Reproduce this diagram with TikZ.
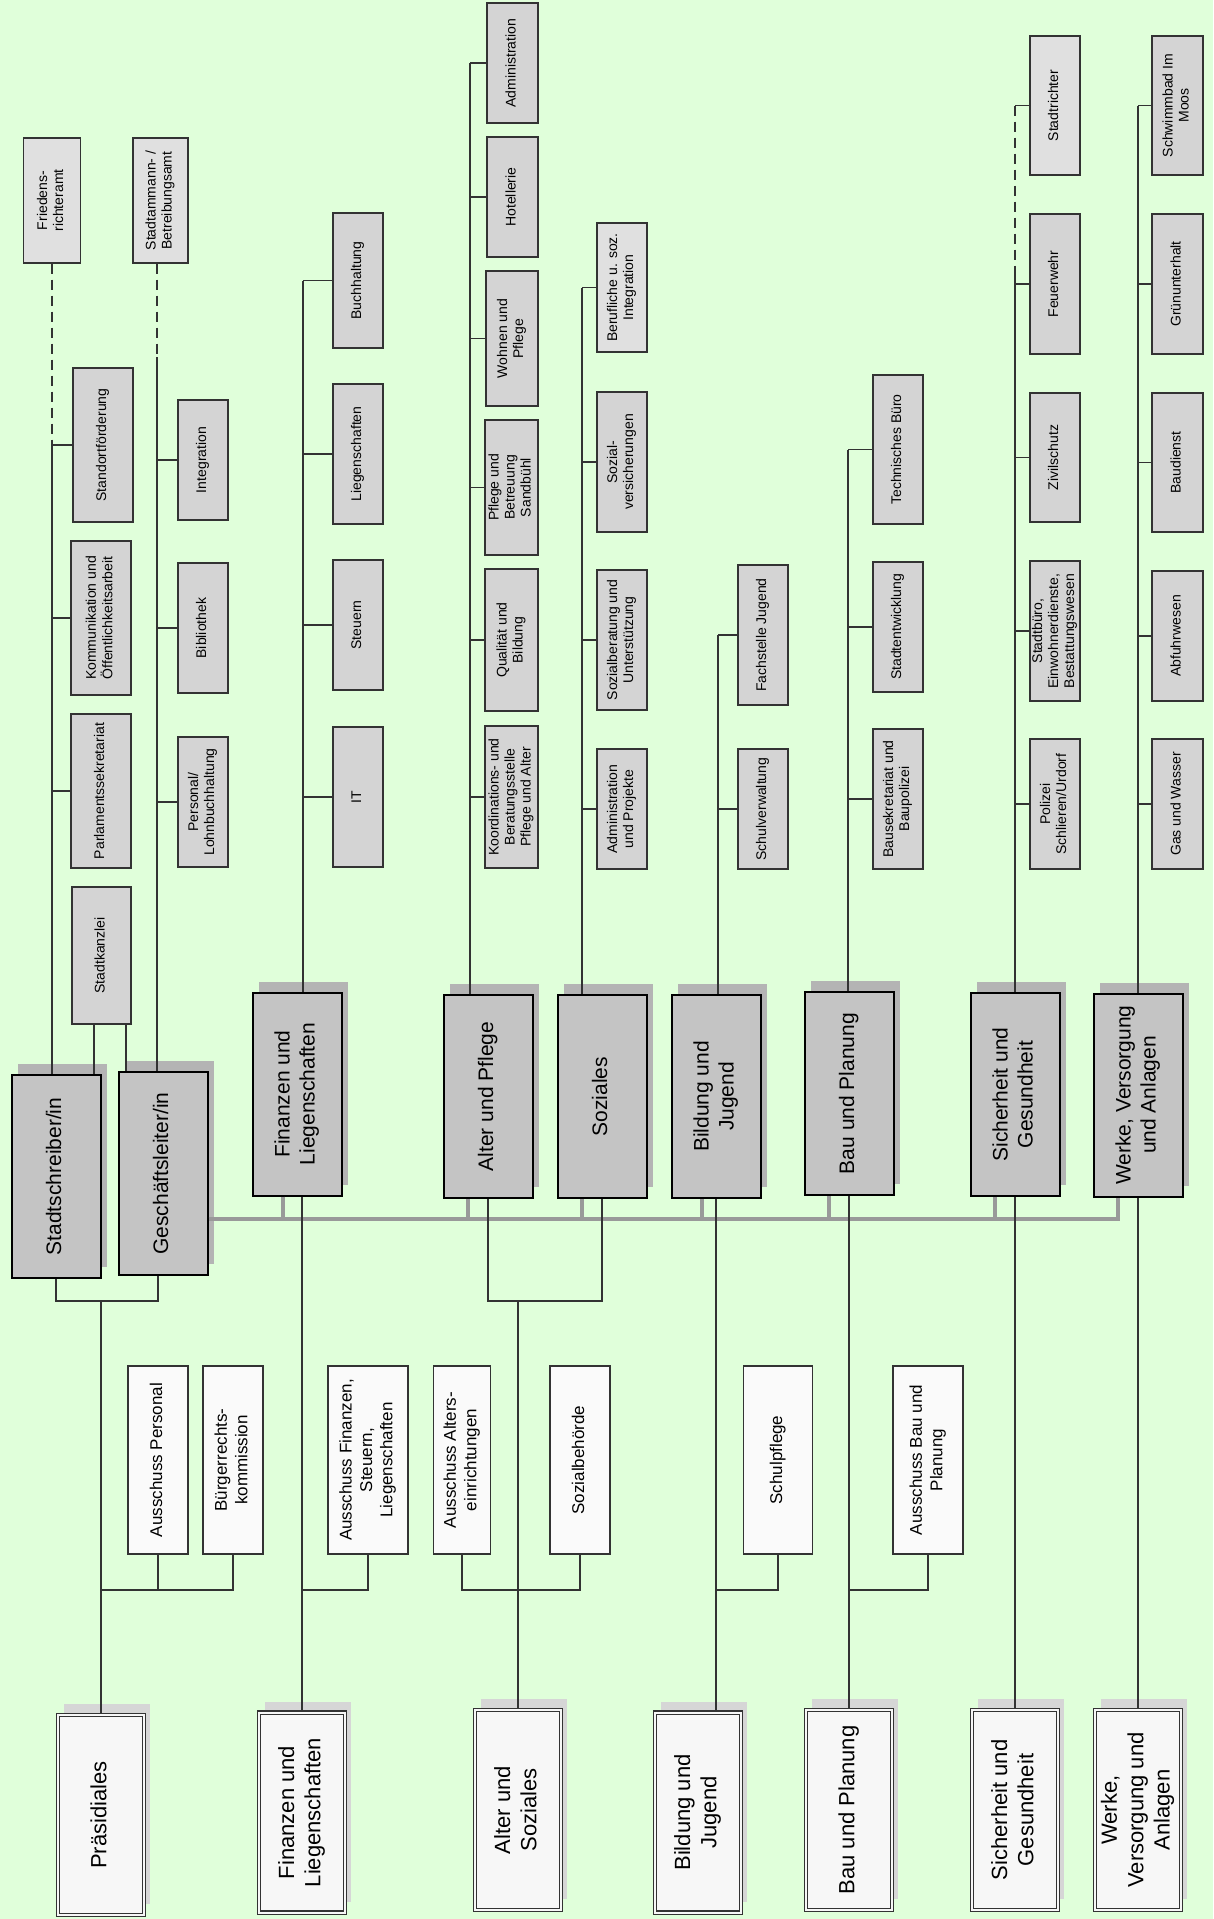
\documentclass[tikz,border=0pt]{standalone}
\usepackage{fontspec}
\setmainfont{Liberation Sans}
\usepackage{graphicx}
\usetikzlibrary{shadows}

\definecolor{bggreen}{RGB}{224,255,218}
\definecolor{unitgray}{RGB}{212,212,212}
\definecolor{palegray}{RGB}{224,224,224}
\definecolor{deptgray}{RGB}{196,196,196}
\definecolor{deptshade}{RGB}{180,180,180}
\definecolor{boardfill}{RGB}{247,247,247}
\definecolor{boardshade}{RGB}{214,214,214}
\definecolor{commfill}{RGB}{250,250,250}
\definecolor{linegray}{RGB}{51,51,51}
\definecolor{busgray}{RGB}{153,153,153}

\newcommand{\vt}[1]{\rotatebox{90}{\begin{tabular}{@{}c@{}}#1\end{tabular}}}

\begin{document}
\begin{tikzpicture}[
    x=1pt, y=-1pt,
    every node/.style={inner sep=1pt},
    unit/.style={rectangle, draw=linegray, line width=1.3pt, fill=unitgray, minimum width=50, font=\fontsize{14}{16}\selectfont},
    paleunit/.style={unit, fill=palegray},
    dept/.style={rectangle, draw=black, line width=2pt, fill=deptgray, minimum width=89, minimum height=203, font=\fontsize{21}{25}\selectfont, drop shadow={shadow xshift=6pt, shadow yshift=11pt, fill=deptshade, opacity=1}},
    comm/.style={rectangle, draw=linegray, line width=1.3pt, fill=commfill, minimum height=188, font=\fontsize{17}{20.4}\selectfont},
    board/.style={rectangle, draw=linegray, line width=1.1pt, double=boardfill, double distance=2pt, fill=boardfill, minimum width=86, minimum height=200, font=\fontsize{22}{26.4}\selectfont, drop shadow={shadow xshift=6pt, shadow yshift=11pt, fill=boardshade, opacity=1}},
    link/.style={draw=linegray, line width=1.3pt},
    dashlink/.style={link, dash pattern=on 10pt off 6pt},
    bus/.style={draw=busgray, line width=4pt}
]
\fill[bggreen] (0,0) rectangle (1213,1919);
\useasboundingbox (0,0) rectangle (1213,1919);

\node[paleunit, minimum width=57, minimum height=125] (friedens) at (52,200.5) {\vt{Friedens-\\richteramt}};
\node[paleunit, minimum width=55, minimum height=125] (stadtamm) at (160.5,200.5) {\vt{Stadtammann- /\\Betreibungsamt}};
\node[unit, minimum width=60, minimum height=154] (standort) at (103,445) {\vt{Standortförderung}};
\node[unit, minimum width=60, minimum height=154] (komm) at (101,618) {\vt{Kommunikation und\\Öffentlichkeitsarbeit}};
\node[unit, minimum width=60, minimum height=154] (parl) at (101,791) {\vt{Parlamentssekretariat}};
\node[unit, minimum width=59, minimum height=137] (kanzlei) at (101.5,955.5) {\vt{Stadtkanzlei}};
\node[unit, minimum height=120] (integ) at (203,460) {\vt{Integration}};
\node[unit, minimum height=130] (biblio) at (203,628) {\vt{Bibliothek}};
\node[unit, minimum height=130] (personal) at (203,802) {\vt{Personal/\\Lohnbuchhaltung}};

\node[unit, minimum height=135] (buchh) at (358,280.5) {\vt{Buchhaltung}};
\node[unit, minimum height=140] (liegen) at (358,454) {\vt{Liegenschaften}};
\node[unit, minimum height=130] (steuern) at (358,625) {\vt{Steuern}};
\node[unit, minimum height=140] (it) at (358,797) {\vt{IT}};

\node[unit, minimum width=51, minimum height=120] (admin) at (512.5,63) {\vt{Administration}};
\node[unit, minimum width=51, minimum height=120] (hotel) at (512.5,197) {\vt{Hotellerie}};
\node[unit, minimum width=52, minimum height=135] (wohnen) at (512,338.5) {\vt{Wohnen und\\Pflege}};
\node[unit, minimum width=53, minimum height=135] (sandb) at (511.5,487.5) {\vt{Pflege und\\Betreuung\\Sandbühl}};
\node[unit, minimum width=53, minimum height=142] (quali) at (511.5,640) {\vt{Qualität und\\Bildung}};
\node[unit, minimum width=53, minimum height=142] (koord) at (511.5,797) {\vt{Koordinations- und\\Beratungsstelle\\Pflege und Alter}};

\node[paleunit, minimum height=129] (beruf) at (622,287.5) {\vt{Berufliche u. soz.\\Integration}};
\node[unit, minimum height=140] (sozvers) at (622,462) {\vt{Sozial-\\versicherungen}};
\node[unit, minimum height=140] (sozber) at (622,640) {\vt{Sozialberatung und\\Unterstützung}};
\node[unit, minimum height=120] (adminpro) at (622,809) {\vt{Administration\\und Projekte}};

\node[unit, minimum height=140] (fachst) at (763,635) {\vt{Fachstelle Jugend}};
\node[unit, minimum height=120] (schulverw) at (763,809) {\vt{Schulverwaltung}};

\node[unit, minimum height=149] (techb) at (898,449.5) {\vt{Technisches Büro}};
\node[unit, minimum height=130] (stadtentw) at (898,627) {\vt{Stadtentwicklung}};
\node[unit, minimum height=140] (bausekr) at (898,799) {\vt{Bausekretariat und\\Baupolizei}};

\node[paleunit, minimum height=139] (richter) at (1055,105.5) {\vt{Stadtrichter}};
\node[unit, minimum height=140] (feuer) at (1055,284) {\vt{Feuerwehr}};
\node[unit, minimum height=129] (zivil) at (1055,457.5) {\vt{Zivilschutz}};
\node[unit, minimum height=140] (stadtbuero) at (1055,631) {\vt{Stadtbüro,\\Einwohnerdienste,\\Bestattungswesen}};
\node[unit, minimum height=130] (polizei) at (1055,804) {\vt{Polizei\\Schlieren/Urdorf}};

\node[unit, minimum width=51, minimum height=139] (schwimm) at (1177.5,105.5) {\vt{Schwimmbad Im\\Moos}};
\node[unit, minimum width=51, minimum height=140] (gruen) at (1177.5,284) {\vt{Grünunterhalt}};
\node[unit, minimum width=51, minimum height=139] (baud) at (1177.5,462.5) {\vt{Baudienst}};
\node[unit, minimum width=51, minimum height=130] (abfuhr) at (1177.5,636) {\vt{Abfuhrwesen}};
\node[unit, minimum width=51, minimum height=130] (gas) at (1177.5,804) {\vt{Gas und Wasser}};

\node[dept] (stadtschr) at (56,1176.5) {\vt{Stadtschreiber/in}};
\node[dept] (gesch) at (163,1173.5) {\vt{Geschäftsleiter/in}};
\node[dept] (finanz) at (297,1094) {\vt{Finanzen und\\Liegenschaften}};
\node[dept] (alter) at (488,1096.5) {\vt{Alter und Pflege}};
\node[dept] (sozial) at (602,1096.5) {\vt{Soziales}};
\node[dept] (bildung) at (716,1096.5) {\vt{Bildung und\\Jugend}};
\node[dept] (bau) at (849,1093.5) {\vt{Bau und Planung}};
\node[dept] (sicher) at (1015,1094.5) {\vt{Sicherheit und\\Gesundheit}};
\node[dept] (werke) at (1138,1095) {\vt{Werke, Versorgung\\und Anlagen}};

\node[comm, minimum width=60] (auspers) at (158,1460) {\vt{Ausschuss Personal}};
\node[comm, minimum width=60] (buerger) at (233,1460) {\vt{Bürgerrechts-\\kommission}};
\node[comm, minimum width=80] (ausfin) at (368,1460) {\vt{Ausschuss Finanzen,\\Steuern,\\Liegenschaften}};
\node[comm, minimum width=57] (ausalt) at (462,1460) {\vt{Ausschuss Alters-\\einrichtungen}};
\node[comm, minimum width=60] (sozbeh) at (580,1460) {\vt{Sozialbehörde}};
\node[comm, minimum width=69] (schulpfl) at (778,1460) {\vt{Schulpflege}};
\node[comm, minimum width=70] (ausbau) at (928,1460) {\vt{Ausschuss Bau und\\Planung}};

\node[board] (praes) at (101,1815) {\vt{Präsidiales}};
\node[board] (finb) at (302,1812.5) {\vt{Finanzen und\\Liegenschaften}};
\node[board] (alsoz) at (518,1810) {\vt{Alter und\\Soziales}};
\node[board] (bildb) at (698,1812.5) {\vt{Bildung und\\Jugend}};
\node[board] (baub) at (849,1810) {\vt{Bau und Planung}};
\node[board] (sicherb) at (1015,1810) {\vt{Sicherheit und\\Gesundheit}};
\node[board] (werkeb) at (1138,1810) {\vt{Werke,\\Versorgung und\\Anlagen}};

\coordinate (tges) at (157,357);
\coordinate (tfin) at (303,0);
\coordinate (talt) at (470,0);
\coordinate (tsoz) at (582,0);
\coordinate (tbil) at (718,0);
\coordinate (tbau) at (848,0);
\coordinate (tsic) at (1015,272);
\coordinate (twer) at (1138,0);

\draw[dashlink] (friedens.south) -- (friedens.south |- standort.west);
\draw[link] (friedens.south |- standort.west) -- (friedens.south |- stadtschr.north);
\foreach \n in {standort,komm,parl} \draw[link] (friedens.south |- \n.west) -- (\n.west);
\draw[link] ([xshift=-7.5]kanzlei.south) -- ([xshift=-7.5]kanzlei.south |- stadtschr.north);
\draw[link] ([xshift=24.5]kanzlei.south) -- ([xshift=24.5]kanzlei.south |- gesch.north);

\draw[dashlink] (tges |- stadtamm.south) -- (tges);
\draw[link] (tges) -- (tges |- gesch.north);
\foreach \n in {integ,biblio,personal} \draw[link] (tges |- \n.west) -- (\n.west);

\draw[link] (tfin |- buchh.west) -- (tfin |- finanz.north);
\foreach \n in {buchh,liegen,steuern,it} \draw[link] (tfin |- \n.west) -- (\n.west);

\draw[link] (talt |- admin.west) -- (talt |- alter.north);
\foreach \n in {admin,hotel,wohnen,sandb,quali,koord} \draw[link] (talt |- \n.west) -- (\n.west);

\draw[link] (tsoz |- beruf.west) -- (tsoz |- sozial.north);
\foreach \n in {beruf,sozvers,sozber,adminpro} \draw[link] (tsoz |- \n.west) -- (\n.west);

\draw[link] (tbil |- fachst.west) -- (tbil |- bildung.north);
\foreach \n in {fachst,schulverw} \draw[link] (tbil |- \n.west) -- (\n.west);

\draw[link] (tbau |- techb.west) -- (tbau |- bau.north);
\foreach \n in {techb,stadtentw,bausekr} \draw[link] (tbau |- \n.west) -- (\n.west);

\draw[dashlink] (tsic |- richter.west) -- (tsic);
\draw[link] (tsic) -- (sicher.north);
\foreach \n in {richter,feuer,zivil,stadtbuero,polizei} \draw[link] (tsic |- \n.west) -- (\n.west);

\draw[link] (twer |- schwimm.west) -- (twer |- werke.north);
\foreach \n in {schwimm,gruen,baud,abfuhr,gas} \draw[link] (twer |- \n.west) -- (\n.west);

\coordinate (busy) at (0,1219);
\draw[bus] (gesch.east |- busy) -- ([xshift=-20]werke.south |- busy) -- ([xshift=-20]werke.south);
\foreach \n/\d in {finanz/-14,alter/-20,sozial/-20,bildung/-14,bau/-20,sicher/-20}
  \draw[bus] ([xshift=\d]\n.south) -- ([xshift=\d]\n.south |- busy);

\coordinate (jpr) at (0,1301);
\coordinate (cy) at (0,1590);
\draw[link] (stadtschr.south) -- (stadtschr.south |- jpr) -- ([xshift=-5]gesch.south |- jpr) -- ([xshift=-5]gesch.south);
\draw[link] (praes.north |- jpr) -- (praes.north);
\draw[link] (praes.north |- cy) -| (buerger.south);
\draw[link] (auspers.south |- cy) -- (auspers.south);

\draw[link] (finb.north |- finanz.south) -- (finb.north);
\draw[link] (finb.north |- cy) -| (ausfin.south);

\draw[link] (alter.south) -- (alter.south |- jpr) -- (sozial.south |- jpr) -- (sozial.south);
\draw[link] (alsoz.north |- jpr) -- (alsoz.north);
\draw[link] (ausalt.south) |- (sozbeh.south |- cy) -- (sozbeh.south);

\draw[link] (bildung.south) -- (bildung.south |- bildb.north);
\draw[link] (bildung.south |- cy) -| (schulpfl.south);

\draw[link] (bau.south) -- (baub.north);
\draw[link] (bau.south |- cy) -| (ausbau.south);
\draw[link] (sicher.south) -- (sicherb.north);
\draw[link] (werke.south) -- (werkeb.north);
\end{tikzpicture}
\end{document}
